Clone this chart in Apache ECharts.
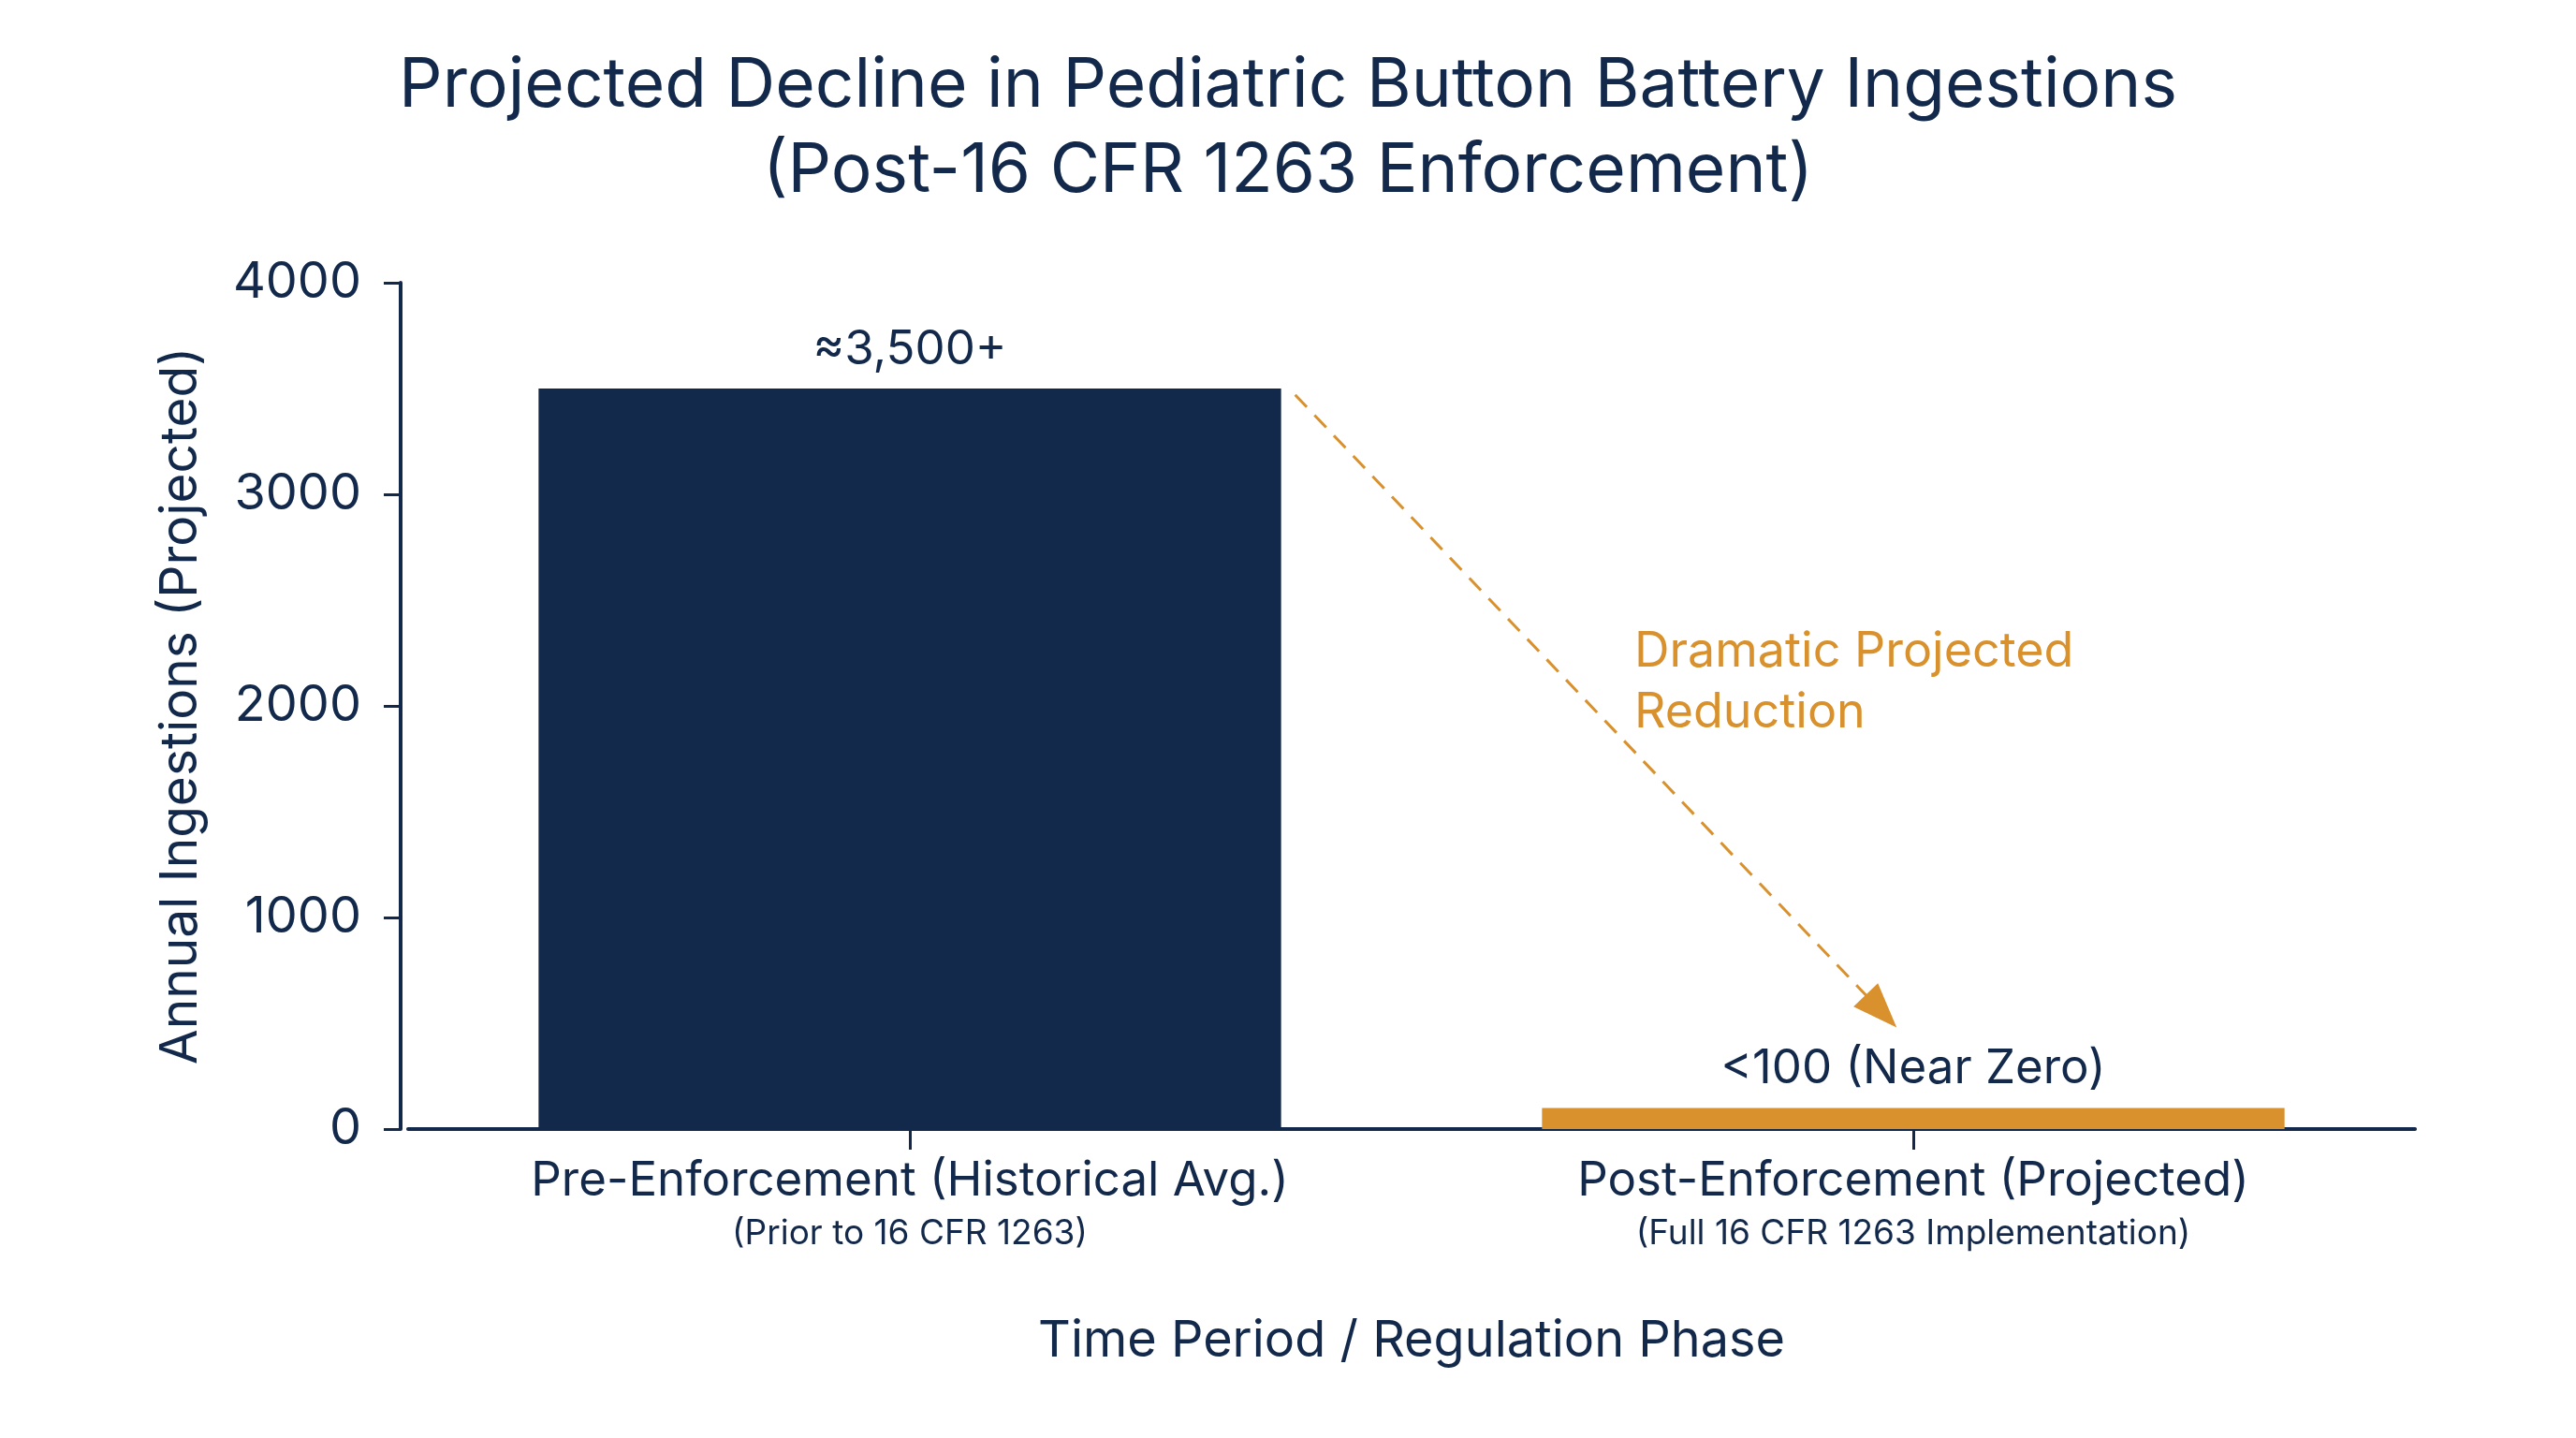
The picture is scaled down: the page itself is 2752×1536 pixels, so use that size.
<!DOCTYPE html>
<html>
<head>
    <meta http-equiv="Content-Type" content="text/html; charset=UTF-8">
    <title>Button battery ingestions</title>
    <script type="text/javascript" src="https://cdn.jsdelivr.net/npm/echarts@6/dist/echarts.min.js"></script>
    <style>
        html, body { margin: 0; padding: 0; background: #ffffff; }
        #main { width: 2752px; height: 1536px; }
    </style>
</head>
<body>
<div id="main"></div>
<script type="text/javascript">
    // chart data
    var categories = ['Pre-Enforcement (Historical Avg.)', 'Post-Enforcement (Projected)'];
    var subLabels = ['(Prior to 16 CFR 1263)', '(Full 16 CFR 1263 Implementation)'];
    var ingestions = [3500, 100];
    var valueLabels = ['≈3,500+', '<100 (Near Zero)'];
    var barColors = ['#13294b', '#d8912c'];
    // arrow ends, in (category position, value) units
    var arrowFrom = [0.384, 3470];
    var arrowTo = [0.968, 557];
    var arrowNote = 'Dramatic Projected\nReduction';

    var navy = '#13294b';
    var orange = '#d8912c';
    var font = 'Inter';

    var barData = [];
    for (var i = 0; i < ingestions.length; i++) {
        barData.push({
            value: ingestions[i],
            itemStyle: {color: barColors[i]},
            label: {formatter: valueLabels[i]}
        });
    }

    var chart = echarts.init(document.getElementById('main'));
    chart.setOption({
        backgroundColor: '#ffffff',
        animation: false,
        textStyle: {fontFamily: font},
        title: {
            text: 'Projected Decline in Pediatric Button Battery Ingestions\n(Post-16 CFR 1263 Enforcement)',
            left: 'center',
            top: 42,
            textStyle: {fontFamily: font, fontSize: 73, fontWeight: 'normal', color: navy, lineHeight: 91}
        },
        grid: {left: 436, right: 172, top: 302, bottom: 330},
        xAxis: [
            {
                type: 'category',
                data: categories,
                name: 'Time Period / Regulation Phase',
                nameLocation: 'middle',
                nameGap: 200,
                nameTextStyle: {fontFamily: font, fontSize: 54, color: navy},
                axisLine: {lineStyle: {color: navy, width: 4}},
                axisTick: {show: true, alignWithLabel: true, length: 22, lineStyle: {color: navy, width: 3}},
                axisLabel: {
                    margin: 26,
                    formatter: function (v, idx) {
                        return '{main|' + v + '}\n{sub|' + subLabels[idx] + '}';
                    },
                    rich: {
                        main: {fontFamily: font, fontSize: 51, color: navy, lineHeight: 60},
                        sub: {fontFamily: font, fontSize: 37, color: navy, lineHeight: 52}
                    }
                }
            },
            {
                type: 'value',
                min: -0.5,
                max: 1.5,
                show: false
            }
        ],
        yAxis: {
            type: 'value',
            min: 0,
            max: 4000,
            interval: 1000,
            offset: 8,
            name: 'Annual Ingestions (Projected)',
            nameLocation: 'middle',
            nameGap: 207,
            nameTextStyle: {fontFamily: font, fontSize: 55, color: navy},
            axisLine: {show: true, onZero: false, lineStyle: {color: navy, width: 4}},
            axisTick: {show: true, length: 18, lineStyle: {color: navy, width: 3}},
            axisLabel: {
                margin: 42,
                fontFamily: font,
                fontSize: 54,
                color: navy,
                formatter: function (v) { return String(v); }
            },
            splitLine: {show: false}
        },
        graphic: [
            {
                type: 'text',
                left: 1746,
                top: 664,
                style: {text: arrowNote, font: '52px Inter', fill: orange, lineHeight: 65}
            }
        ],
        series: [
            {
                type: 'bar',
                data: barData,
                barWidth: '74%',
                label: {
                    show: true,
                    position: 'top',
                    distance: 16,
                    fontFamily: font,
                    fontSize: 51,
                    color: navy
                }
            },
            {
                type: 'line',
                xAxisIndex: 1,
                data: [arrowFrom, arrowTo],
                showSymbol: false,
                silent: true,
                lineStyle: {opacity: 0},
                markLine: {
                    silent: true,
                    symbol: ['none', 'triangle'],
                    symbolSize: [36, 48],
                    label: {show: false},
                    lineStyle: {color: orange, width: 3, type: [18, 12], opacity: 1},
                    itemStyle: {color: orange},
                    data: [[{coord: arrowFrom}, {coord: arrowTo}]]
                }
            }
        ]
    });
</script>
</body>
</html>
